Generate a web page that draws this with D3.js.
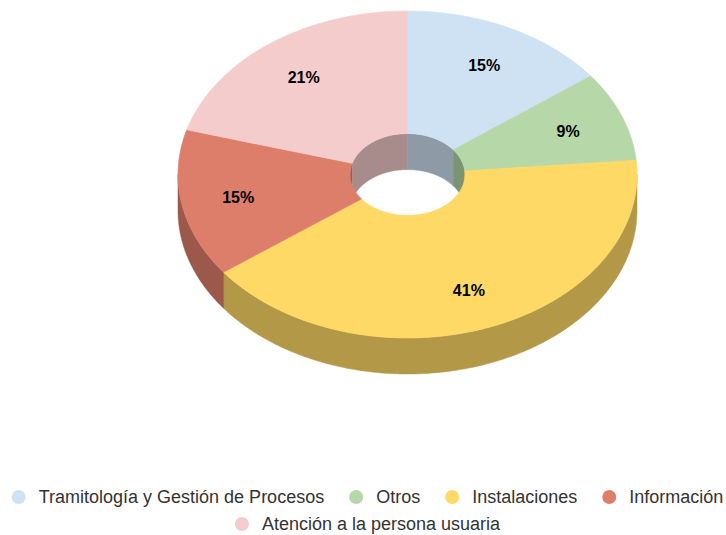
<!DOCTYPE html>
<html>
<head>
<meta charset="utf-8">
<script src="https://cdn.jsdelivr.net/npm/d3@7"></script>
<style>
  body { margin: 0; background: #fff; }
  svg { display: block; font-family: "Liberation Sans", Arial, sans-serif; }
</style>
</head>
<body>
<div id="chart"></div>
<script>
// data
const categories = ["Tramitología y Gestión de Procesos", "Otros", "Instalaciones", "Información", "Atención a la persona usuaria"];
const values = [14.7, 8.9, 41.2, 14.6, 20.6];
const colors = ["#cfe2f3", "#b6d7a8", "#ffd966", "#dd7e6b", "#f4cccc"];

const width = 726, height = 535;

// ellipse geometry of the 3d donut
const cx = 407.5, cy = 174.5, rx = 229.5, ry = 163.5;
const innerFrac = 0.25, depth = 36;

const svg = d3.select("#chart").append("svg")
    .attr("width", width)
    .attr("height", height);

const color = d3.scaleOrdinal().domain(categories).range(colors);

const pie = d3.pie().sort(null).value(d => d.value);
const arcs = pie(categories.map((c, i) => ({name: c, value: values[i]})));
const total = d3.sum(values);

function pt(a, f, dz) {
    return [cx + rx * f * Math.sin(a), cy - ry * f * Math.cos(a) + (dz || 0)];
}
function arcPts(a1, a2, f, dz) {
    const n = Math.max(2, Math.ceil(Math.abs(a2 - a1) / 0.01));
    return d3.range(n + 1).map(i => pt(a1 + (a2 - a1) * i / n, f, dz));
}
const line = d3.line();

// intersect [s,e] with a list of ranges
function clipRanges(s, e, ranges) {
    let out = [];
    ranges.forEach(r => {
        let a = Math.max(s, r[0]), b = Math.min(e, r[1]);
        if (b > a) out.push([a, b]);
    });
    return out;
}

const backRanges = [[0, Math.PI / 2], [3 * Math.PI / 2, 2 * Math.PI]];
const frontRanges = [[Math.PI / 2, 3 * Math.PI / 2]];

// inner walls (seen through the hole)
const gInner = svg.append("g").attr("class", "inner-walls");
arcs.forEach(d => {
    clipRanges(d.startAngle, d.endAngle, backRanges).forEach(r => {
        const pts = arcPts(r[0], r[1], innerFrac, 0).concat(arcPts(r[1], r[0], innerFrac, depth));
        gInner.append("path")
            .attr("d", line(pts) + "Z")
            .attr("fill", d3.color(color(d.data.name)).darker(1.05))
            .attr("stroke", d3.color(color(d.data.name)).darker(1.05))
            .attr("stroke-width", 0.5);
    });
});

// outer walls (front half)
const gOuter = svg.append("g").attr("class", "outer-walls");
arcs.forEach(d => {
    clipRanges(d.startAngle, d.endAngle, frontRanges).forEach(r => {
        const pts = arcPts(r[0], r[1], 1, 0).concat(arcPts(r[1], r[0], 1, depth));
        gOuter.append("path")
            .attr("d", line(pts) + "Z")
            .attr("fill", d3.color(color(d.data.name)).darker(1))
            .attr("stroke", d3.color(color(d.data.name)).darker(1))
            .attr("stroke-width", 0.5);
    });
});

// top faces
const gTop = svg.append("g").attr("class", "top-faces");
arcs.forEach(d => {
    const pts = arcPts(d.startAngle, d.endAngle, 1, 0).concat(arcPts(d.endAngle, d.startAngle, innerFrac, 0));
    gTop.append("path")
        .attr("d", line(pts) + "Z")
        .attr("fill", color(d.data.name))
        .attr("stroke", color(d.data.name))
        .attr("stroke-width", 0.6);
});

// data labels
svg.append("g").selectAll("text")
    .data(arcs)
    .enter().append("text")
    .attr("x", d => pt((d.startAngle + d.endAngle) / 2, 0.75)[0])
    .attr("y", d => pt((d.startAngle + d.endAngle) / 2, 0.75, 1)[1])
    .attr("text-anchor", "middle")
    .attr("dominant-baseline", "central")
    .attr("font-size", "16px")
    .attr("font-weight", "bold")
    .attr("fill", "#000")
    .text(d => Math.round(d.data.value / total * 100) + "%");

// legend
const legendRows = [[0, 1, 2, 3], [4]];
const rowY = [497, 524];
const legendCenter = 367.5;
const gLegend = svg.append("g").attr("class", "legend");
legendRows.forEach((row, ri) => {
    const gRow = gLegend.append("g");
    let x = 0;
    row.forEach(i => {
        const item = gRow.append("g").attr("transform", `translate(${x},0)`);
        item.append("circle")
            .attr("cx", 7).attr("cy", rowY[ri])
            .attr("r", 7)
            .attr("fill", colors[i]);
        const t = item.append("text")
            .attr("x", 27).attr("y", rowY[ri])
            .attr("dominant-baseline", "central")
            .attr("font-size", "18px")
            .attr("fill", "#333")
            .text(categories[i]);
        x += 27 + t.node().getComputedTextLength() + 25;
    });
    const rowW = x - 25;
    gRow.attr("transform", `translate(${legendCenter - rowW / 2},0)`);
});
</script>
</body>
</html>
